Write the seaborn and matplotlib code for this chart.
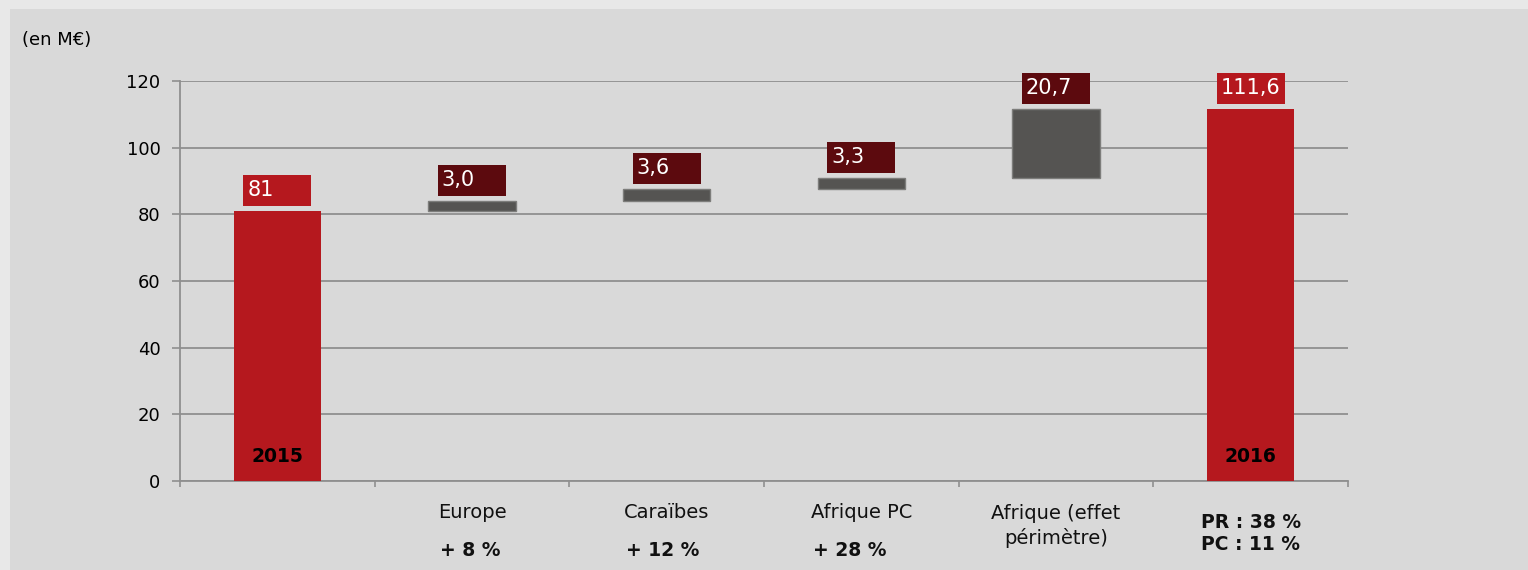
import matplotlib
matplotlib.use("Agg")
import matplotlib.pyplot as plt
import matplotlib.patches as mpatches
import pandas as pd
import seaborn as sns

# data (M€)
steps = ["2015", "Europe", "Caraïbes", "Afrique PC", "Afrique (effet\npérimètre)", "2016"]
totals = [81.0, 111.6]
total_labels = ["81", "111,6"]
deltas = [3.0, 3.6, 3.3, 20.7]
delta_labels = ["3,0", "3,6", "3,3", "20,7"]
growth = ["+ 8 %", "+ 12 %", "+ 28 %"]
final_note = "PR : 38 %\nPC : 11 %"
unit_label = "(en M€)"

OUTER = "#e8e8e8"
PANEL = "#d9d9d9"
RED = "#b5181e"
DARK = "#5c0a0e"
GREY = "#555452"
GRID = "#8f8f8f"

# running bases of the waterfall
bases = []
level = totals[0]
for d in deltas:
    bases.append(level)
    level += d

sns.set_theme(style="white")
plt.rcParams["font.family"] = ["DejaVu Sans"]

fig = plt.figure(figsize=(15.28, 5.70), dpi=100, facecolor=OUTER)
fig.patches.append(mpatches.Rectangle((10 / 1528, 0), 1, 561 / 570, transform=fig.transFigure,
                                      facecolor=PANEL, edgecolor="none", zorder=-1))
ax = fig.add_axes([180 / 1528, 89 / 570, 1168 / 1528, 400 / 570])
ax.set_facecolor(PANEL)

bar_w = 0.45
tot_df = pd.DataFrame({"step": [steps[0], steps[-1]], "value": totals})
sns.barplot(data=tot_df, x="step", y="value", order=steps, color=RED, saturation=1,
            width=bar_w, errorbar=None, linewidth=0, zorder=3, ax=ax)
d_df = pd.DataFrame({"step": steps[1:-1], "value": deltas, "base": bases})
sns.barplot(data=d_df, x="step", y="value", order=steps, color=GREY, saturation=1,
            width=bar_w, errorbar=None, bottom=d_df["base"].values,
            edgecolor="#7d7d7b", linewidth=1, zorder=3, ax=ax)

ax.set_xlim(-0.5, len(steps) - 0.5)
ax.set_ylim(0, 120)
ax.set_yticks(range(0, 121, 20))
ax.set_xlabel("")
ax.set_ylabel("")
ax.set_xticks(range(len(steps)))
ax.set_xticklabels([])
ax.set_xticks([i - 0.5 for i in range(len(steps) + 1)], minor=True)
ax.tick_params(axis="x", which="major", bottom=False, length=0)
ax.tick_params(axis="x", which="minor", bottom=True, length=4.5, width=1.2, color=GRID,
               direction="out")
ax.tick_params(axis="y", which="major", left=True, length=6, width=1.2, color=GRID,
               labelsize=13, pad=8, labelcolor="black", direction="out")
ax.yaxis.grid(True, color=GRID, linewidth=1.3)
ax.set_axisbelow(True)
for s in ["top", "right"]:
    ax.spines[s].set_visible(False)
for s in ["left", "bottom"]:
    ax.spines[s].set_color(GRID)
    ax.spines[s].set_linewidth(1.3)

# value boxes above the bars
box_w, box_h, gap = 0.35, 9.3, 1.6
tops = [totals[0]] + [b + d for b, d in zip(bases, deltas)] + [totals[1]]
labels = [total_labels[0]] + delta_labels + [total_labels[1]]
colors = [RED] + [DARK] * len(deltas) + [RED]
for i, (t, lab, c) in enumerate(zip(tops, labels, colors)):
    y0 = t + gap
    ax.add_patch(mpatches.Rectangle((i - box_w / 2, y0), box_w, box_h, facecolor=c,
                                    edgecolor="none", zorder=4, clip_on=False))
    ax.text(i - box_w / 2 + 0.02, y0 + box_h / 2, lab, color="white", fontsize=15,
            ha="left", va="center", zorder=5)

# years inside the total bars
xt = ax.get_xaxis_transform()
for i, yr in [(0, steps[0]), (len(steps) - 1, steps[-1])]:
    ax.text(i, 0.06, yr, transform=xt, ha="center", va="center", fontsize=13.5,
            fontweight="bold", color="black", zorder=5)

# category labels under the axis
name_texts = []
for i in range(1, 4):
    name_texts.append(ax.text(i, -0.0775, steps[i], transform=xt, ha="center", va="center",
                              fontsize=14, color="#111111"))
ax.text(4, -0.112, steps[4], transform=xt, ha="center", va="center", fontsize=14,
        color="#111111", linespacing=1.3)
ax.text(5, -0.13, final_note, transform=xt, ha="center", va="center", fontsize=13.5,
        fontweight="bold", color="#111111", linespacing=1.2)

fig.canvas.draw()
inv = ax.transData.inverted()
for t, g in zip(name_texts, growth):
    x0 = inv.transform(t.get_window_extent().p0)[0]
    ax.text(x0 + 0.01, -0.1725, g, transform=xt, ha="left", va="center", fontsize=13.5,
            fontweight="bold", color="#111111")

fig.text(22 / 1528, 1 - 40 / 570, unit_label, ha="left", va="center", fontsize=13,
         color="black")

fig.savefig("out.png", dpi=100, facecolor=fig.get_facecolor())
